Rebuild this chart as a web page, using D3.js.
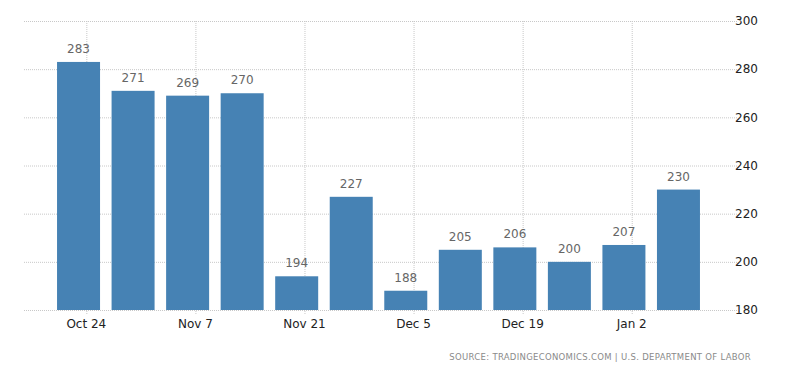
<!DOCTYPE html>
<html>
<head>
<meta charset="utf-8">
<script src="https://cdn.jsdelivr.net/npm/d3@7"></script>
<style>
    body { margin: 0; background: #fff; }
    .grid line { stroke: #c8c8c8; stroke-dasharray: 1,1; }
    .grid path { display: none; }
</style>
</head>
<body>
<div id="chart"></div>
<script>
// weekly data
const weeks = ["2016-10-23", "2016-10-30", "2016-11-06", "2016-11-13", "2016-11-20", "2016-11-27",
    "2016-12-04", "2016-12-11", "2016-12-18", "2016-12-25", "2017-01-01", "2017-01-08"];
const values = [283, 271, 269, 270, 194, 227, 188, 205, 206, 200, 207, 230];
const xTickDates = ["2016-10-24", "2016-11-07", "2016-11-21", "2016-12-05", "2016-12-19", "2017-01-02"];
const yTicks = [180, 200, 220, 240, 260, 280, 300];
const sourceText = "SOURCE: TRADINGECONOMICS.COM | U.S. DEPARTMENT OF LABOR";

const parseDate = d3.timeParse("%Y-%m-%d");

let margin = { top: 21, right: 67, bottom: 63, left: 24 },
    width = 800 - margin.left - margin.right,
    height = 373 - margin.top - margin.bottom;

let svg = d3.select("#chart")
    .append("svg")
    .attr("width", 800)
    .attr("height", 373)
    .append("g")
    .attr("transform", "translate(" + margin.left + "," + margin.top + ")");

let xScale = d3.scaleTime()
    .domain([parseDate("2016-10-16"), parseDate("2017-01-15")])
    .range([0, width]);

let yScale = d3.scaleLinear()
    .domain([180, 300])
    .range([height, 0]);

// grid lines
svg.append("g")
    .attr("class", "grid")
    .call(d3.axisRight(yScale).tickValues(yTicks).tickSize(width + 4).tickFormat(""));

svg.append("g")
    .attr("class", "grid")
    .call(d3.axisBottom(xScale).tickValues(xTickDates.map(parseDate)).tickSize(height + 4).tickFormat(""));

// bars
const barWidth = 43;
svg.selectAll(".bar")
    .data(values)
    .enter()
    .append("rect")
    .attr("class", "bar")
    .attr("x", (d, i) => xScale(parseDate(weeks[i])) - barWidth / 2)
    .attr("y", d => yScale(d))
    .attr("width", barWidth)
    .attr("height", d => height - yScale(d))
    .attr("fill", "#4682b4");

// value labels
svg.selectAll(".val")
    .data(values)
    .enter()
    .append("text")
    .attr("text-anchor", "middle")
    .attr("x", (d, i) => xScale(parseDate(weeks[i])))
    .attr("y", d => yScale(d) - 9)
    .attr("font-family", "'DejaVu Sans', sans-serif")
    .attr("font-size", "12px")
    .attr("fill", "#666")
    .text(d => d);

// y axis labels
svg.selectAll(".ylab")
    .data(yTicks)
    .enter()
    .append("text")
    .attr("x", width + 2)
    .attr("y", d => yScale(d))
    .attr("dy", "0.35em")
    .attr("font-family", "'DejaVu Sans', sans-serif")
    .attr("font-size", "12px")
    .attr("fill", "#222")
    .text(d => d);

// x axis labels
const fmt = d3.timeFormat("%b %-d");
svg.selectAll(".xlab")
    .data(xTickDates)
    .enter()
    .append("text")
    .attr("text-anchor", "middle")
    .attr("x", d => xScale(parseDate(d)))
    .attr("y", height + 18)
    .attr("font-family", "'DejaVu Sans', sans-serif")
    .attr("font-size", "12px")
    .attr("fill", "#222")
    .text(d => fmt(parseDate(d)));

// source
svg.append("text")
    .attr("text-anchor", "end")
    .attr("x", 751 - margin.left)
    .attr("y", 360 - margin.top)
    .attr("font-family", "'DejaVu Sans', sans-serif")
    .attr("font-size", "8.5px")
    .attr("letter-spacing", "0.3px")
    .attr("fill", "#8a8a8a")
    .text(sourceText);
</script>
</body>
</html>
